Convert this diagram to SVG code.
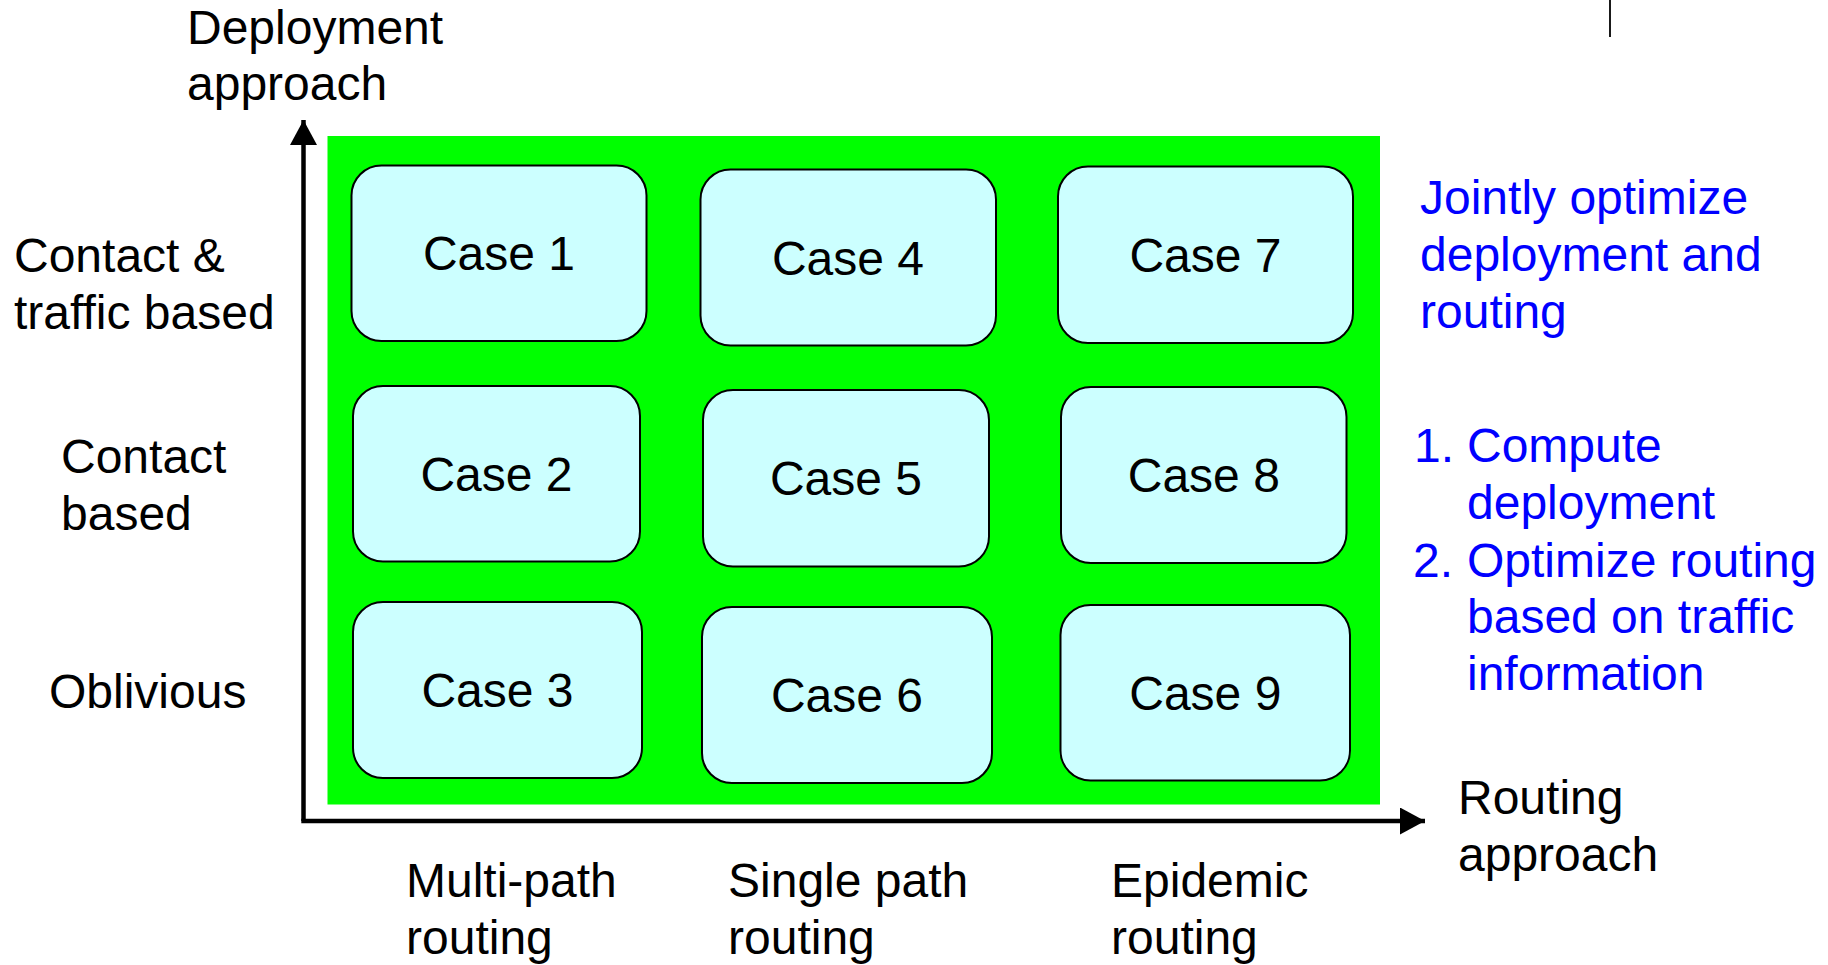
<svg xmlns="http://www.w3.org/2000/svg" width="1828" height="965" viewBox="0 0 1828 965">
<style>
text{font-family:"Liberation Sans",Arial,sans-serif;font-size:48px;fill:#000}
.blue{fill:#0000FF}
.box{fill:#CCFFFF;stroke:#000;stroke-width:2}
.case{text-anchor:middle}
.axis{stroke:#000;stroke-width:4.5;fill:none}
</style>
<defs>
<marker id="arr" markerUnits="userSpaceOnUse" markerWidth="26" markerHeight="28" refX="25" refY="13.5" orient="auto" viewBox="0 0 26 28">
<path d="M0,0 L25,13.5 L0,27 Z" fill="#000"/>
</marker>
</defs>
<rect width="1828" height="965" fill="#fff"/>
<line x1="1610" y1="0" x2="1610" y2="37" stroke="#000" stroke-width="1.8"/>
<rect id="background" x="327.5" y="136" width="1052.5" height="668.5" fill="#00FF00"/>
<g id="connectors">
<path class="axis" d="M303.5,821 L303.5,120" marker-end="url(#arr)"/>
<path class="axis" d="M301.3,821 L1425,821" marker-end="url(#arr)"/>
</g>
<g id="case1"><rect class="box" x="351.5" y="165.5" width="295" height="175.5" rx="30"/><text class="case" x="499" y="270">Case 1</text></g>
<g id="case4"><rect class="box" x="700.5" y="169.5" width="295.5" height="176" rx="30"/><text class="case" x="848" y="274.5">Case 4</text></g>
<g id="case7"><rect class="box" x="1058" y="166.5" width="295" height="176.5" rx="30"/><text class="case" x="1205.5" y="272">Case 7</text></g>
<g id="case2"><rect class="box" x="353" y="386" width="287" height="175.5" rx="30"/><text class="case" x="496.5" y="491">Case 2</text></g>
<g id="case5"><rect class="box" x="703" y="390" width="286" height="176.5" rx="30"/><text class="case" x="846" y="495">Case 5</text></g>
<g id="case8"><rect class="box" x="1061" y="387" width="285.5" height="176" rx="30"/><text class="case" x="1203.8" y="492">Case 8</text></g>
<g id="case3"><rect class="box" x="353" y="602" width="289" height="176" rx="30"/><text class="case" x="497.5" y="707">Case 3</text></g>
<g id="case6"><rect class="box" x="702" y="607" width="290" height="176" rx="30"/><text class="case" x="847" y="712">Case 6</text></g>
<g id="case9"><rect class="box" x="1060.5" y="605" width="289.5" height="175.5" rx="30"/><text class="case" x="1205.3" y="710">Case 9</text></g>
<g id="yaxis-label"><text x="187" y="44">Deployment</text><text x="187" y="100">approach</text></g>
<g id="xaxis-label"><text x="1458" y="814">Routing</text><text x="1458" y="871">approach</text></g>
<g id="row-labels">
<text x="14" y="272">Contact &amp;</text><text x="14" y="329">traffic based</text>
<text x="61" y="473">Contact</text><text x="61" y="530">based</text>
<text x="49" y="708">Oblivious</text>
</g>
<g id="col-labels">
<text x="406" y="897">Multi-path</text><text x="406" y="954">routing</text>
<text x="728" y="897">Single path</text><text x="728" y="954">routing</text>
<text x="1111" y="897">Epidemic</text><text x="1111" y="954">routing</text>
</g>
<g id="notes">
<text class="blue" x="1420" y="214">Jointly optimize</text>
<text class="blue" x="1420" y="271">deployment and</text>
<text class="blue" x="1420" y="328">routing</text>
<text class="blue" x="1414" y="462">1.</text><text class="blue" x="1467" y="462">Compute</text>
<text class="blue" x="1467" y="519">deployment</text>
<text class="blue" x="1413" y="577">2.</text><text class="blue" x="1467" y="577">Optimize routing</text>
<text class="blue" x="1467" y="633">based on traffic</text>
<text class="blue" x="1467" y="690">information</text>
</g>
</svg>
